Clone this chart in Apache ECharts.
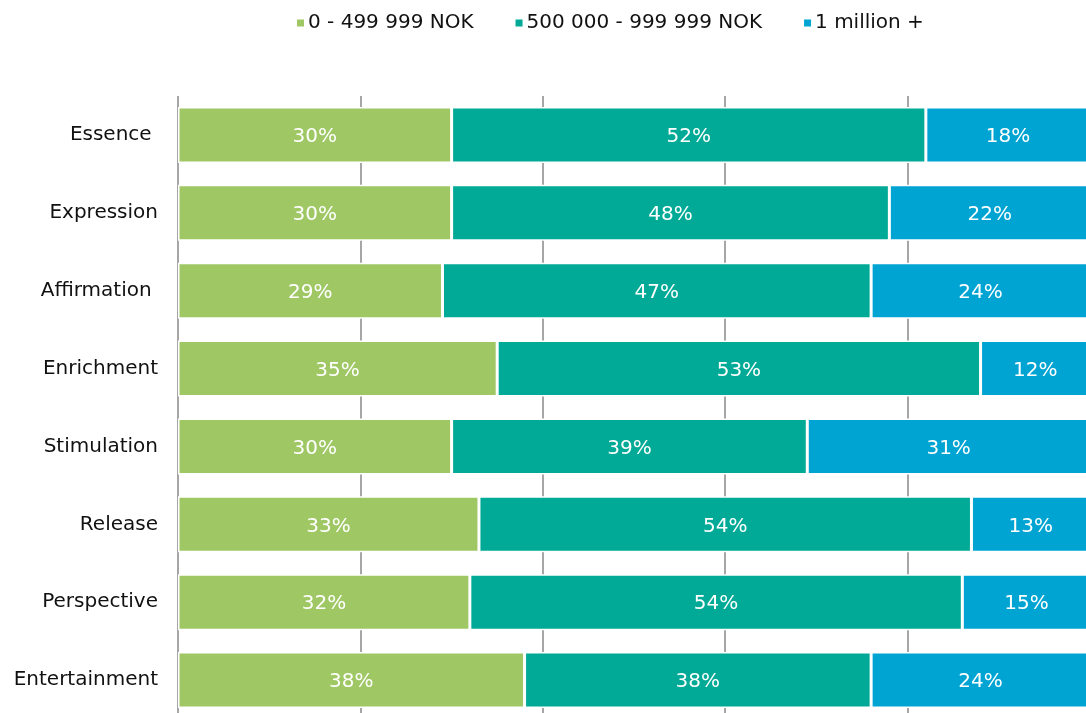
<!DOCTYPE html>
<html>
<head>
<meta charset="utf-8">
<script src="https://cdn.jsdelivr.net/npm/echarts@6/dist/echarts.min.js"></script>
<style>
  html, body { margin: 0; padding: 0; background: #ffffff; }
  #chart { width: 1086px; height: 713px; }
</style>
</head>
<body>
<div id="chart"></div>
<script>
// Categories, top to bottom
const categories = ['Essence ', 'Expression', 'Affirmation ', 'Enrichment', 'Stimulation', 'Release', 'Perspective', 'Entertainment'];

// Share of respondents per income bracket (%)
const seriesNames = ['0 - 499 999 NOK', '500 000 - 999 999 NOK', '1 million +'];
const lowIncome  = [30, 30, 29, 35, 30, 33, 32, 38];
const midIncome  = [52, 48, 47, 53, 39, 54, 54, 38];
const highIncome = [18, 22, 24, 12, 31, 13, 15, 24];

const colors = ['#9fc865', '#00aa96', '#00a4d3'];
const font = 'DejaVu Sans';

function barSeries(name, data, color) {
  return {
    name: name,
    type: 'bar',
    stack: 'total',
    data: data,
    barWidth: 56,
    itemStyle: { color: color, borderColor: '#ffffff', borderWidth: 1.5 },
    label: {
      show: true,
      position: 'inside',
      color: '#ffffff',
      fontFamily: font,
      fontSize: 20,
      offset: [0, 2],
      formatter: p => p.value + '%'
    },
    emphasis: { disabled: true }
  };
}

const chart = echarts.init(document.getElementById('chart'), null, { renderer: 'canvas' });
chart.setOption({
  animation: false,
  backgroundColor: '#ffffff',
  color: colors,
  legend: {
    top: 8,
    left: 290,
    itemWidth: 9,
    itemHeight: 9,
    itemGap: 40,
    icon: 'rect',
    textStyle: { fontFamily: font, fontSize: 20, color: '#111111', padding: [0, 0, 0, -2] },
    data: seriesNames
  },
  // plot area runs slightly past the right and bottom edges of the page
  grid: { left: 178, top: 96, width: 912, height: 623, containLabel: false, outerBoundsMode: 'none' },
  xAxis: {
    type: 'value',
    min: 0,
    max: 100,
    interval: 20,
    axisLabel: { show: false },
    axisLine: { show: false },
    axisTick: { show: false },
    splitLine: { show: true, lineStyle: { color: '#a6a6a6', width: 2 } }
  },
  yAxis: {
    type: 'category',
    inverse: true,
    data: categories,
    axisLine: { show: false },
    axisTick: { show: false },
    axisLabel: { fontFamily: font, fontSize: 20, color: '#111111', margin: 20, padding: [5, 0, 0, 0] }
  },
  series: [
    barSeries(seriesNames[0], lowIncome, colors[0]),
    barSeries(seriesNames[1], midIncome, colors[1]),
    barSeries(seriesNames[2], highIncome, colors[2])
  ]
});
</script>
</body>
</html>
